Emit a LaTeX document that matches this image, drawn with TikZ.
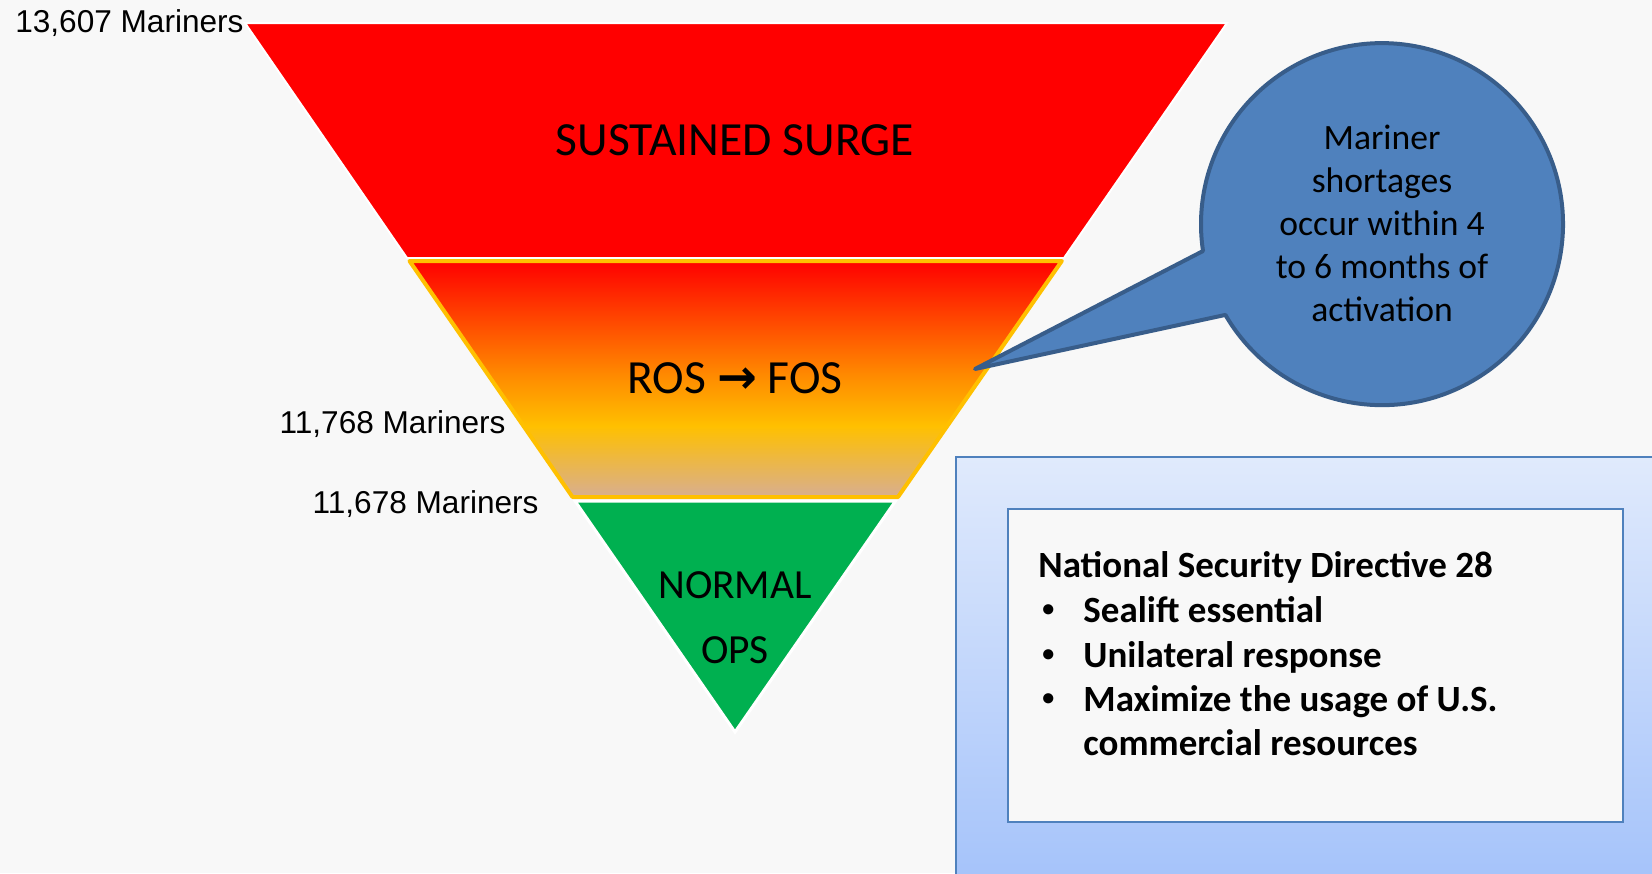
\documentclass[tikz,border=0pt]{standalone}
\usepackage{fontspec}
\setmainfont{Carlito}
\newfontfamily\arialfont{Liberation Sans}
\newfontfamily\arrowfont{DejaVu Sans}
\usetikzlibrary{positioning}

\definecolor{bgGray}{HTML}{F8F8F8}
\definecolor{surgeRed}{HTML}{FF0000}
\definecolor{rosGold}{HTML}{FFC000}
\definecolor{rosOrange}{HTML}{FF8C00}
\definecolor{rosTan}{HTML}{D8AE90}
\definecolor{opsGreen}{HTML}{00B050}
\definecolor{bubbleBlue}{HTML}{4F81BD}
\definecolor{bubbleEdge}{HTML}{385D8A}
\definecolor{boxTop}{HTML}{E0EAFC}
\definecolor{boxBottom}{HTML}{A5C3FA}

\pgfdeclareverticalshading{rosfos}{100bp}{color(0bp)=(rosTan); color(25bp)=(rosTan); color(40bp)=(rosGold); color(50.5bp)=(rosOrange); color(75bp)=(surgeRed); color(100bp)=(surgeRed)}

\begin{document}
\begin{tikzpicture}[x=0.5pt,y=-0.5pt,
  mariners/.style={font=\arialfont\fontsize{15.8}{18}\selectfont, anchor=base east, inner sep=0pt},
  bandtext/.style={font=\fontsize{23.8}{28}\selectfont, inner sep=0pt},
  bubbletext/.style={font=\fontsize{17.8}{21.5}\selectfont, align=center, inner sep=0pt},
  directive/.style={font=\bfseries\fontsize{18.5}{22}\selectfont, anchor=base west, inner sep=0pt}]

%Background
\fill[bgGray] (0,0) rectangle (1652,873);
\useasboundingbox (0,0) rectangle (1652,873);

%*** Funnel ***
%Sustained surge
\filldraw[fill=surgeRed, draw=white, line width=1pt] (245,23) -- (1227,23) -- (1064,258) -- (407,258) -- cycle;
%ROS -> FOS
\shadedraw[shading=rosfos, draw=rosGold, line width=2pt, line join=round] (409.5,261) -- (1061.8,261) -- (898,497) -- (572.5,497) -- cycle;
%Normal ops
\filldraw[fill=opsGreen, draw=white, line width=1.5pt] (575,501) -- (895.5,501) -- (735,732) -- cycle;

%Band labels
\node[bandtext, anchor=base] (surge) at (735,155) {SUSTAINED SURGE};
\node[bandtext, anchor=base] (rosFos) at (735,393) {ROS {\arrowfont\bfseries →} FOS};
\node[bandtext, font=\fontsize{20.7}{32.5}\selectfont, align=center] (normalOps) at (735,618) {NORMAL\\OPS};

%Mariner counts
\node[mariners] (surgeCount) at (244,32) {13,607 Mariners};
\node[mariners] (rosCount) at (506,433) {11,768 Mariners};
\node[mariners] (opsCount) at (539,513) {11,678 Mariners};

%*** Callout ***
\coordinate (tip) at (975,369);
\filldraw[fill=bubbleBlue, draw=bubbleEdge, line width=2pt, line join=round] (1203,251) -- (tip) -- (1225.4,314.9) arc[start angle=149.9, end angle=-188.5, radius=181] -- cycle;
\node[bubbletext] (shortage) at (1382,223) {Mariner\\shortages\\occur within 4\\to 6 months of\\activation};

%*** Directive box ***
\draw[bubbleBlue, top color=boxTop, bottom color=boxBottom, line width=0.75pt] (956,457) rectangle (1665,880);
\draw[fill=bgGray, draw=bubbleBlue, line width=0.75pt] (1008,509) rectangle (1623,822);

\node[directive] (nsd) at (1038,577) {National Security Directive 28};
\foreach \y/\txt [count=\i] in {622/Sealift essential, 667/Unilateral response, 711/Maximize the usage of U.S.}{
  \node[directive] (bullet\i) at (1042,\y) {\fontsize{12}{12}\selectfont\raisebox{2.8pt}{•}};
  \node[directive] (item\i) at (1083,\y) {\txt};
}
\node[directive] (item4) at (1083,755) {commercial resources};
\end{tikzpicture}
\end{document}
